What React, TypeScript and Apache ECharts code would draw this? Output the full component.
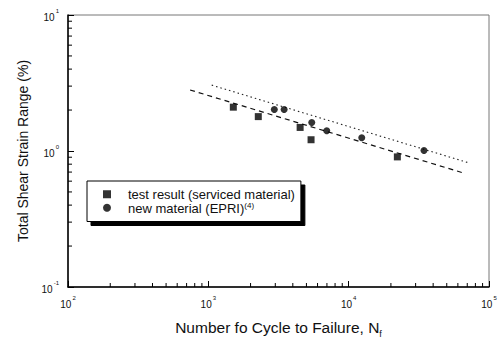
import React, { useEffect, useRef } from 'react';
import * as echarts from 'echarts';

// Data (log-log)
const squareN = [1507, 2270, 4510, 5395, 22230];
const squareStrain = [2.1, 1.79, 1.49, 1.21, 0.905];
const circleN = [2951, 3467, 5457, 6982, 12390, 34420];
const circleStrain = [2.02, 2.02, 1.62, 1.41, 1.25, 1.01];
const fitSquareN = [741, 63970];
const fitSquareStrain = [2.81, 0.695];
const fitCircleN = [1057, 70200];
const fitCircleStrain = [3.05, 0.824];
const xMinorTicks = [200, 300, 400, 500, 600, 700, 800, 900, 2000, 3000, 4000, 5000, 6000, 7000, 8000, 9000, 20000, 30000, 40000, 50000, 60000, 70000, 80000, 90000];
const yMinorTicks = [0.2, 0.3, 0.4, 0.5, 0.6, 0.7, 0.8, 0.9, 2, 3, 4, 5, 6, 7, 8, 9];
const seriesNames = ['test result (serviced material)', 'new material (EPRI)'];
const legendSup = '(4)';
const xName = 'Number fo Cycle to Failure, N';
const xNameSub = 'f';
const yName = 'Total Shear Strain Range (%)';

const FONT = 'Liberation Sans, Arial, sans-serif';
const SQUARE_ICON = 'path://M0 0H10V10H0Z';

const pow10Label = (v: number) => `{b|10}{e|${Math.round(Math.log10(v))}}`;
const powRich = {
  b: { fontSize: 10, fontFamily: FONT, color: '#111', lineHeight: 14, verticalAlign: 'bottom' },
  e: { fontSize: 6, fontFamily: FONT, color: '#111', lineHeight: 14, verticalAlign: 'top', padding: [0, 0, 0, 1] },
};

export default function App() {
  const ref = useRef<HTMLDivElement>(null);
  useEffect(() => {
    if (!ref.current) return;
    const chart = echarts.init(ref.current, undefined, { renderer: 'svg' });
    const zip = (a: number[], b: number[]) => a.map((v, i) => [v, b[i]]);
    chart.setOption({
      animation: false,
      backgroundColor: '#fff',
      grid: { left: 68, right: 13, top: 15, bottom: 50, show: true, borderColor: '#777', borderWidth: 1 },
      legend: {
        data: [
          { name: seriesNames[0], icon: SQUARE_ICON },
          { name: seriesNames[1], icon: 'circle' },
        ],
        orient: 'vertical',
        left: 87,
        top: 181,
        padding: [7, 6, 7, 16],
        itemWidth: 32,
        itemHeight: 8,
        itemGap: 0,
        symbolKeepAspect: true,
        backgroundColor: '#fff',
        borderColor: '#000',
        borderWidth: 1,
        borderRadius: 0,
        shadowColor: '#000',
        shadowBlur: 0,
        shadowOffsetX: 4,
        shadowOffsetY: 4,
        formatter: (name: string) => (name === seriesNames[1] ? `{t|${name}}{s|${legendSup}}` : `{t|${name}}`),
        textStyle: {
          fontFamily: FONT,
          color: '#111',
          rich: {
            t: { fontSize: 13, fontFamily: FONT, color: '#111', lineHeight: 13.5, verticalAlign: 'bottom' },
            s: { fontSize: 8, fontFamily: FONT, color: '#111', lineHeight: 13.5, verticalAlign: 'top' },
          },
        },
      },
      xAxis: {
        type: 'log',
        logBase: 10,
        min: 100,
        max: 100000,
        name: `{n|${xName}}{sub|${xNameSub}}`,
        nameLocation: 'middle',
        nameGap: 30,
        nameTextStyle: {
          rich: {
            n: { fontSize: 15.5, fontFamily: FONT, color: '#111', lineHeight: 18, verticalAlign: 'bottom' },
            sub: { fontSize: 9, fontFamily: FONT, color: '#111', lineHeight: 18, verticalAlign: 'bottom', padding: [0, 0, -3, 0] },
          },
        },
        axisLine: { show: true, lineStyle: { color: '#000', width: 1.5 } },
        axisTick: { show: true, inside: true, length: 6, lineStyle: { color: '#000', width: 1 } },
        axisLabel: { margin: 8, formatter: pow10Label, rich: powRich },
        splitLine: { show: false },
      },
      yAxis: {
        type: 'log',
        logBase: 10,
        min: 0.1,
        max: 10,
        name: yName,
        nameLocation: 'middle',
        nameGap: 38,
        nameRotate: 90,
        nameTextStyle: { fontSize: 14, fontFamily: FONT, color: '#111' },
        axisLine: { show: true, lineStyle: { color: '#000', width: 1.5 } },
        axisTick: { show: true, inside: true, length: 6, lineStyle: { color: '#000', width: 1 } },
        axisLabel: { margin: 9, formatter: pow10Label, rich: powRich },
        splitLine: { show: false },
      },
      series: [
        {
          name: seriesNames[0],
          type: 'scatter',
          symbol: 'rect',
          symbolSize: 7,
          itemStyle: { color: '#000' },
          data: zip(squareN, squareStrain),
          z: 5,
        },
        {
          name: seriesNames[1],
          type: 'scatter',
          symbol: 'circle',
          symbolSize: 7,
          itemStyle: { color: '#000' },
          data: zip(circleN, circleStrain),
          z: 5,
        },
        {
          name: 'fitSquare',
          type: 'line',
          showSymbol: false,
          symbol: 'none',
          lineStyle: { color: '#111', width: 1.2, type: [5, 4] },
          data: zip(fitSquareN, fitSquareStrain),
        },
        {
          name: 'fitCircle',
          type: 'line',
          showSymbol: false,
          symbol: 'none',
          lineStyle: { color: '#222', width: 1.1, type: [1.5, 3] },
          data: zip(fitCircleN, fitCircleStrain),
        },
        {
          name: 'xMinor',
          type: 'custom',
          clip: false,
          silent: true,
          data: xMinorTicks.map((v) => [v, 0.1]),
          renderItem: (_p: any, api: any) => {
            const pt = api.coord([api.value(0), api.value(1)]);
            return { type: 'line', shape: { x1: pt[0], y1: pt[1], x2: pt[0], y2: pt[1] - 4 }, style: { stroke: '#000', lineWidth: 1 } };
          },
        },
        {
          name: 'yMinor',
          type: 'custom',
          clip: false,
          silent: true,
          data: yMinorTicks.map((v) => [100, v]),
          renderItem: (_p: any, api: any) => {
            const pt = api.coord([api.value(0), api.value(1)]);
            return { type: 'line', shape: { x1: pt[0], y1: pt[1], x2: pt[0] + 4, y2: pt[1] }, style: { stroke: '#000', lineWidth: 1 } };
          },
        },
      ],
    });
    return () => chart.dispose();
  }, []);
  return <div ref={ref} style={{ position: 'fixed', left: 0, top: 0, width: 502, height: 343 }} />;
}
